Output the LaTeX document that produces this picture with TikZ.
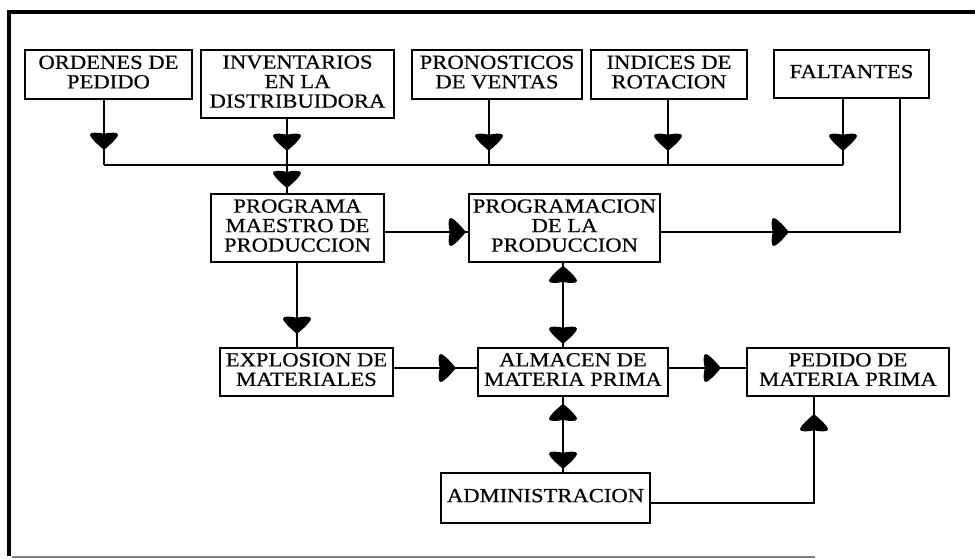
\documentclass[tikz,border=0pt]{standalone}
\usepackage{fontspec}
\newfontfamily\boxfont[FakeStretch=1.13, FakeBold=0.5]{Liberation Serif}
\usetikzlibrary{decorations.markings}

% filled shield-shaped arrowhead, tip at the origin, pointing along +x
\newcommand\headshape{\fill (0,0) .. controls (-4,-5) and (-11,-13) .. (-15,-14)
  .. controls (-18,-14.5) and (-17.5,-5) .. (-16,0)
  .. controls (-17.5,5) and (-18,14.5) .. (-15,14)
  .. controls (-11,13) and (-4,5) .. cycle;}

\tikzset{
  blk/.style={draw, line width=1.6pt, inner sep=0pt, align=center,
    font=\boxfont\fontsize{20}{19.5}\selectfont, text depth=5pt},
  conn/.style={line width=1.8pt},
  headat/.style={postaction={decorate, decoration={markings,
    mark=at position #1 with {\headshape}}}},
  tailat/.style={postaction={decorate, decoration={markings,
    mark=at position #1 with {\begin{scope}[xscale=-1]\headshape\end{scope}}}}},
}

\begin{document}
\begin{tikzpicture}[x=1pt, y=-1pt]
\useasboundingbox (0,0) rectangle (976,558);

% outer frame
\draw[line width=3.5pt] (9,556) -- (9,12) -- (975,12);
\draw[gray, line width=1.5pt] (12,557) -- (815,557);

% input boxes
\node[blk, minimum width=167, minimum height=49] (ord) at (108.5,74.5) {ORDENES DE\\PEDIDO};
\node[blk, minimum width=193, minimum height=68] (inv) at (297.5,84) {INVENTARIOS\\EN LA\\DISTRIBUIDORA};
\node[blk, minimum width=170, minimum height=49] (pro) at (497,74.5) {PRONOSTICOS\\DE VENTAS};
\node[blk, minimum width=156, minimum height=49] (ind) at (669,74.5) {INDICES DE\\ROTACION};
\node[blk, minimum width=155, minimum height=48] (fal) at (851.5,74) {FALTANTES};

% planning and material boxes
\node[blk, minimum width=173, minimum height=68] (pmp) at (297.5,228) {PROGRAMA\\MAESTRO DE\\PRODUCCION};
\node[blk, minimum width=191, minimum height=68] (prg) at (564.5,228) {PROGRAMACION\\DE LA\\PRODUCCION};
\node[blk, minimum width=173, minimum height=48] (exp) at (306.5,372) {EXPLOSION DE\\MATERIALES};
\node[blk, minimum width=190, minimum height=48] (alm) at (573,372) {ALMACEN DE\\MATERIA PRIMA};
\node[blk, minimum width=202, minimum height=48] (ped) at (848,372) {PEDIDO DE\\MATERIA PRIMA};
\node[blk, minimum width=209, minimum height=50] (adm) at (545.5,498) {ADMINISTRACION};

% collecting bus under the input boxes
\coordinate (busL) at (104,165);
\coordinate (busR) at (843,165);
\coordinate (dInv) at ([xshift=-10.5pt]inv.south);
\coordinate (dPro) at ([xshift=-8pt]pro.south);
\coordinate (dInd) at ([xshift=-1pt]ind.south);
\draw[conn] (busL) -- (busR);
\draw[conn, headat=50pt] ([xshift=-4.5pt]ord.south) -- (busL);
\draw[conn, headat=32pt] (dInv) -- (dInv |- busL);
\draw[conn, headat=51pt] (dPro) -- (dPro |- busL);
\draw[conn, headat=51pt] (dInd) -- (dInd |- busL);
\draw[conn, headat=52pt] ([xshift=-8.5pt]fal.south) -- (busR);
\draw[conn, headat=23pt] (dInv |- busL) -- (dInv |- pmp.north);

% flows between the blocks
\draw[conn, headat=81pt] ([yshift=-4pt]pmp.east) -- ([yshift=-4pt]prg.west);
\draw[conn, headat=128pt] ([yshift=-4pt]prg.east) -| ([xshift=48.5pt]fal.south);
\draw[conn, headat=71pt] ([xshift=-0.5pt]pmp.south) -- ([xshift=-0.5pt]pmp.south |- exp.north);
\draw[conn, headat=62pt] ([yshift=4pt]exp.east) -- ([yshift=4pt]alm.west);
\draw[conn, tailat=3pt, headat=81pt] ([xshift=-1.5pt]prg.south) -- ([xshift=-1.5pt]prg.south |- alm.north);
\draw[conn, headat=52pt] ([yshift=4pt]alm.east) -- ([yshift=4pt]ped.west);
\draw[conn, tailat=7pt, headat=72pt] ([xshift=-10pt]alm.south) -- ([xshift=-10pt]alm.south |- adm.north);
\draw[conn, headat=252pt] ([yshift=-5pt]adm.east) -| ([xshift=-34pt]ped.south);
\end{tikzpicture}
\end{document}
